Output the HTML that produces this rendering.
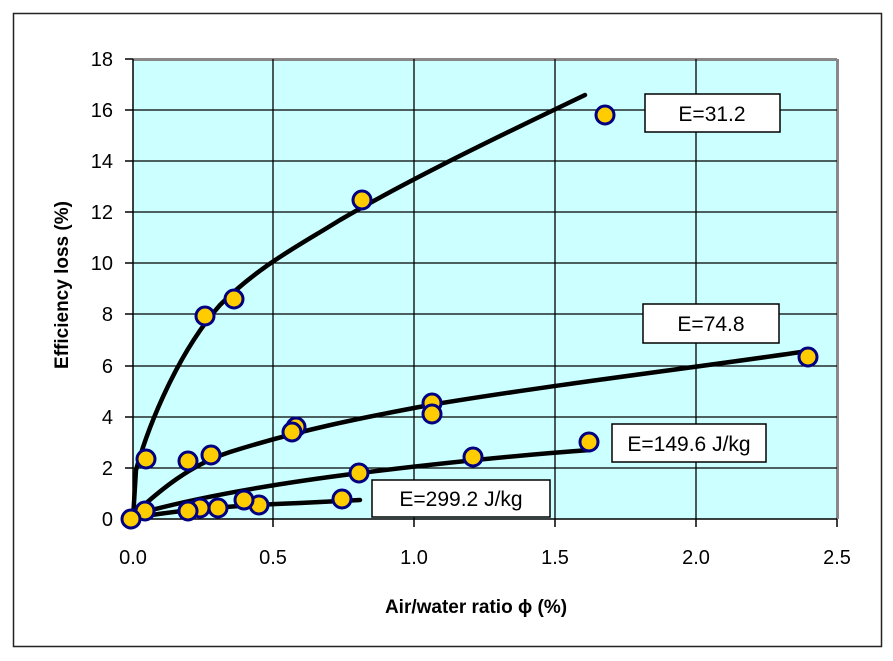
<!DOCTYPE html>
<html><head><meta charset="utf-8"><style>body{margin:0;background:#fff}svg{display:block}</style></head><body>
<svg width="893" height="661" viewBox="0 0 893 661" font-family="Liberation Sans, sans-serif">
<rect x="13.5" y="13.5" width="868" height="633" fill="#fff" stroke="#222" stroke-width="1.5"/>
<rect x="133" y="59" width="704" height="460" fill="#ccffff"/>
<line x1="133" y1="59.5" x2="837" y2="59.5" stroke="#888" stroke-width="3"/>
<line x1="837.5" y1="59" x2="837.5" y2="519" stroke="#888" stroke-width="3"/>
<g stroke="#000" stroke-width="1.3">
<line x1="133" y1="110" x2="837" y2="110"/><line x1="133" y1="161" x2="837" y2="161"/>
<line x1="133" y1="212" x2="837" y2="212"/><line x1="133" y1="263" x2="837" y2="263"/>
<line x1="133" y1="314" x2="837" y2="314"/><line x1="133" y1="366" x2="837" y2="366"/>
<line x1="133" y1="417" x2="837" y2="417"/><line x1="133" y1="468" x2="837" y2="468"/>
<line x1="273" y1="59" x2="273" y2="519"/><line x1="414" y1="59" x2="414" y2="519"/>
<line x1="555" y1="59" x2="555" y2="519"/><line x1="696" y1="59" x2="696" y2="519"/>
</g>
<g stroke="#000" stroke-width="1.5">
<line x1="133" y1="59" x2="133" y2="519"/><line x1="133" y1="519" x2="837" y2="519"/>
<line x1="125" y1="59" x2="133" y2="59"/><line x1="125" y1="110" x2="133" y2="110"/><line x1="125" y1="161" x2="133" y2="161"/><line x1="125" y1="212" x2="133" y2="212"/><line x1="125" y1="263" x2="133" y2="263"/><line x1="125" y1="314" x2="133" y2="314"/><line x1="125" y1="366" x2="133" y2="366"/><line x1="125" y1="417" x2="133" y2="417"/><line x1="125" y1="468" x2="133" y2="468"/><line x1="125" y1="519" x2="133" y2="519"/>
<line x1="133" y1="519" x2="133" y2="527"/><line x1="273" y1="519" x2="273" y2="527"/><line x1="414" y1="519" x2="414" y2="527"/><line x1="555" y1="519" x2="555" y2="527"/><line x1="696" y1="519" x2="696" y2="527"/><line x1="837" y1="519" x2="837" y2="527"/>
</g>
<g font-size="20" text-anchor="end" fill="#000">
<text x="113" y="66">18</text><text x="113" y="117">16</text><text x="113" y="168">14</text><text x="113" y="219">12</text><text x="113" y="270">10</text><text x="113" y="321">8</text><text x="113" y="373">6</text><text x="113" y="424">4</text><text x="113" y="475">2</text><text x="113" y="526">0</text>
</g>
<g font-size="20" text-anchor="middle" fill="#000">
<text x="133" y="564">0.0</text><text x="273" y="564">0.5</text><text x="414" y="564">1.0</text><text x="555" y="564">1.5</text><text x="696" y="564">2.0</text><text x="837" y="564">2.5</text>
</g>
<text x="476" y="613" font-size="19" font-weight="bold" text-anchor="middle">Air/water ratio ϕ (%)</text>
<text transform="translate(68,285) rotate(-90)" font-size="19" font-weight="bold" text-anchor="middle">Efficiency loss (%)</text>
<g fill="none" stroke="#000" stroke-width="4.5" stroke-linecap="round">
<path d="M133,519 L136,470 C150,420 180,350 220,305 C260,265 300,245 340,220 C400,185 470,150 585,95"/>
<path d="M133,515 C160,490 190,465 230,452 C300,430 360,418 430,405 C550,385 700,367 808,351"/>
<path d="M133,515 C200,496 280,483 360,473 C450,462 520,455 590,450"/>
<path d="M133,518 C190,508 250,505 300,503 L360,500"/>
</g>
<g fill="#ffcc00" stroke="#000080" stroke-width="3">
<circle cx="605" cy="115" r="9"/><circle cx="362" cy="200" r="9"/><circle cx="234" cy="299" r="9"/><circle cx="205" cy="316" r="9"/><circle cx="146" cy="459" r="9"/>
<circle cx="808" cy="357" r="9"/><circle cx="432" cy="403" r="9"/><circle cx="432" cy="414" r="9"/><circle cx="296" cy="427" r="9"/><circle cx="292" cy="432" r="9"/><circle cx="211" cy="455" r="9"/><circle cx="188" cy="461" r="9"/>
<circle cx="589" cy="442" r="9"/><circle cx="359" cy="473" r="9"/><circle cx="473" cy="457" r="9"/><circle cx="145" cy="511" r="9"/>
<circle cx="342" cy="499" r="9"/><circle cx="259" cy="505" r="9"/><circle cx="244" cy="500" r="9"/><circle cx="218" cy="508" r="9"/><circle cx="200" cy="508" r="9"/><circle cx="188" cy="511" r="9"/><circle cx="131" cy="519" r="9"/>
</g>
<g fill="#fff" stroke="#000" stroke-width="1.5">
<rect x="645" y="94" width="135" height="38"/>
<rect x="643" y="304" width="136" height="39"/>
<rect x="612" y="424" width="154" height="38"/>
<rect x="372" y="480" width="178" height="37"/>
</g>
<g font-size="21" text-anchor="middle" fill="#000">
<text x="712" y="121">E=31.2</text>
<text x="711" y="331">E=74.8</text>
<text x="689" y="451">E=149.6 J/kg</text>
<text x="461" y="506">E=299.2 J/kg</text>
</g>
</svg>
</body></html>
